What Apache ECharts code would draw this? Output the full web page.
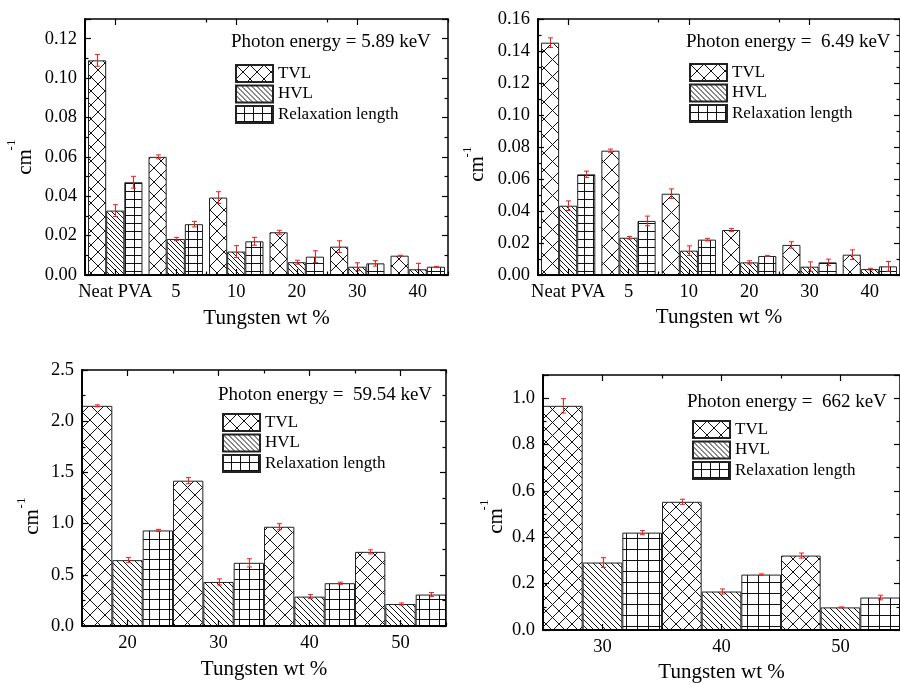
<!DOCTYPE html>
<html>
<head>
<meta charset="utf-8">
<script src="https://cdn.jsdelivr.net/npm/echarts@6/dist/echarts.min.js"></script>
<style>html,body{margin:0;padding:0;background:#fff}#c{width:900px;height:684px}</style>
</head>
<body>
<div id="c"></div>
<script>
// ---------- DATA ----------
const seriesNames = ['TVL', 'HVL', 'Relaxation length'];
const xName = 'Tungsten wt %';

const p1Title = 'Photon energy = 5.89 keV';
const p1Cats = ['Neat PVA', '5', '10', '20', '30', '40'];
const p1TVL = [0.109, 0.060, 0.0393, 0.0217, 0.0144, 0.0098];
const p1HVL = [0.0327, 0.0183, 0.0119, 0.0065, 0.0042, 0.0029];
const p1Rel = [0.0471, 0.0258, 0.0171, 0.0093, 0.0059, 0.0042];
const p1TVLerr = [0.003, 0.001, 0.003, 0.001, 0.003, 0.0002];
const p1HVLerr = [0.003, 0.0008, 0.003, 0.001, 0.002, 0.003];
const p1Relerr = [0.003, 0.0014, 0.002, 0.003, 0.0014, 0.0002];

const p2Title = 'Photon energy =  6.49 keV';
const p2Cats = ['Neat PVA', '5', '10', '20', '30', '40'];
const p2TVL = [0.1452, 0.0777, 0.0508, 0.0281, 0.0188, 0.0127];
const p2HVL = [0.0433, 0.0233, 0.0152, 0.0079, 0.0052, 0.0037];
const p2Rel = [0.0629, 0.0338, 0.0221, 0.0119, 0.0079, 0.0054];
const p2TVLerr = [0.003, 0.001, 0.003, 0.001, 0.002, 0.003];
const p2HVLerr = [0.003, 0.0008, 0.003, 0.001, 0.003, 0.0005];
const p2Relerr = [0.002, 0.003, 0.0008, 0.0002, 0.002, 0.003];

const p3Title = 'Photon energy =  59.54 keV';
const p3Cats = ['20', '30', '40', '50'];
const p3TVL = [2.150, 1.419, 0.969, 0.724];
const p3HVL = [0.643, 0.430, 0.287, 0.215];
const p3Rel = [0.933, 0.617, 0.418, 0.307];
const p3TVLerr = [0.01, 0.03, 0.03, 0.02];
const p3HVLerr = [0.025, 0.03, 0.02, 0.01];
const p3Relerr = [0.01, 0.04, 0.01, 0.02];

const p4Title = 'Photon energy =  662 keV';
const p4Cats = ['30', '40', '50'];
const p4TVL = [0.967, 0.553, 0.321];
const p4HVL = [0.291, 0.166, 0.0975];
const p4Rel = [0.420, 0.239, 0.140];
const p4TVLerr = [0.031, 0.011, 0.011];
const p4HVLerr = [0.021, 0.011, 0.002];
const p4Relerr = [0.009, 0.003, 0.01];

// y-axis tick settings
const p1Y = {max: 0.13, interval: 0.02, digits: 2, showMax: false};
const p2Y = {max: 0.16, interval: 0.02, digits: 2, showMax: true};
const p3Y = {max: 2.5, interval: 0.5, digits: 1, showMax: true};
const p4Y = {max: 1.1, interval: 0.2, digits: 1, showMax: false};

// ---------- LAYOUT / STYLE ----------
const FONT = '"Liberation Serif", "Times New Roman", serif';

function makePattern(type, s) {
  const c = document.createElement('canvas');
  const w = s.w || s, h = s.h || s;
  c.width = w; c.height = h;
  const g = c.getContext('2d');
  g.fillStyle = '#fff'; g.fillRect(0, 0, w, h);
  g.strokeStyle = '#111'; g.lineWidth = 1;
  g.beginPath();
  if (type === 'cross') {
    g.moveTo(0, 0); g.lineTo(w, h);
    g.moveTo(w, 0); g.lineTo(0, h);
  } else if (type === 'diag') {
    g.moveTo(-w, -h); g.lineTo(2 * w, 2 * h);
    g.moveTo(0, -h); g.lineTo(2 * w, h);
    g.moveTo(-w, 0); g.lineTo(w, 2 * h);
  } else {
    g.moveTo(w - 0.5, 0); g.lineTo(w - 0.5, h);
    g.moveTo(0, h - 0.5); g.lineTo(w, h - 0.5);
  }
  g.stroke();
  return {image: c, repeat: 'repeat'};
}

const panels = [
  {cats: p1Cats, vals: [p1TVL, p1HVL, p1Rel], errs: [p1TVLerr, p1HVLerr, p1Relerr], y: p1Y, title: p1Title,
   grid: {left: 85, top: 19, width: 363, height: 256}, gap: 0.10, nameGap: 33,
   titlePos: [231, 42], legend: {left: 235, top: 64},
   cm: [25, 162], sup: [12, 145],
   pat: [{t: 'cross', s: 14}, {t: 'diag', s: 5}, {t: 'grid', s: {w: 9, h: 8}}]},
  {cats: p2Cats, vals: [p2TVL, p2HVL, p2Rel], errs: [p2TVLerr, p2HVLerr, p2Relerr], y: p2Y, title: p2Title,
   grid: {left: 538, top: 19, width: 364, height: 256}, gap: 0.10, nameGap: 32,
   titlePos: [686, 42], legend: {left: 689, top: 63},
   cm: [477, 169], sup: [468, 152],
   pat: [{t: 'cross', s: 17}, {t: 'diag', s: 5}, {t: 'grid', s: {w: 9, h: 8}}]},
  {cats: p3Cats, vals: [p3TVL, p3HVL, p3Rel], errs: [p3TVLerr, p3HVLerr, p3Relerr], y: p3Y, title: p3Title,
   grid: {left: 82, top: 370, width: 364, height: 256}, gap: 0, nameGap: 33,
   titlePos: [218, 395], legend: {left: 222, top: 413},
   cm: [32, 522], sup: [22, 503],
   pat: [{t: 'cross', s: 15}, {t: 'diag', s: 6}, {t: 'grid', s: 10}]},
  {cats: p4Cats, vals: [p4TVL, p4HVL, p4Rel], errs: [p4TVLerr, p4HVLerr, p4Relerr], y: p4Y, title: p4Title,
   grid: {left: 543, top: 375, width: 364, height: 256}, gap: 0, nameGap: 32,
   titlePos: [687, 402], legend: {left: 692, top: 420},
   cm: [496, 521], sup: [485, 505],
   pat: [{t: 'cross', s: 13}, {t: 'diag', s: 6}, {t: 'grid', s: 11}]}
];

const grids = [], xAxes = [], yAxes = [], series = [], legends = [], graphics = [];
const tickLine = {color: '#000', width: 1.2};

panels.forEach((p, pi) => {
  grids.push(Object.assign({}, p.grid));
  grids.push(Object.assign({}, p.grid));
  const gA = 2 * pi, gB = 2 * pi + 1;
  const xA = xAxes.length;
  // bottom main axis
  xAxes.push({
    type: 'category', gridIndex: gA, position: 'bottom', data: p.cats, z: 10,
    axisLine: {show: true, onZero: false, lineStyle: {color: '#000', width: 2}},
    axisTick: {show: true, inside: true, alignWithLabel: true, length: 6, lineStyle: tickLine},
    axisLabel: {show: true, color: '#000', fontFamily: FONT, fontSize: 18.5, margin: 8, interval: 0},
    splitLine: {show: false},
    name: xName, nameLocation: 'middle', nameGap: p.nameGap,
    nameTextStyle: {color: '#000', fontFamily: FONT, fontSize: 21}
  });
  // top main axis
  xAxes.push({
    type: 'category', gridIndex: gA, position: 'top', data: p.cats, z: 10,
    axisLine: {show: true, onZero: false, lineStyle: {color: '#000', width: 1.5}},
    axisTick: {show: true, inside: true, alignWithLabel: true, length: 6, lineStyle: tickLine},
    axisLabel: {show: false}, splitLine: {show: false}
  });
  // boundary (minor) ticks
  xAxes.push({
    type: 'category', gridIndex: gB, position: 'bottom', data: p.cats, z: 10,
    axisLine: {show: false, onZero: false},
    axisTick: {show: true, inside: true, length: 3.5, lineStyle: tickLine},
    axisLabel: {show: false}, splitLine: {show: false}
  });
  xAxes.push({
    type: 'category', gridIndex: gB, position: 'top', data: p.cats, z: 10,
    axisLine: {show: false, onZero: false},
    axisTick: {show: true, inside: true, length: 3.5, lineStyle: tickLine},
    axisLabel: {show: false}, splitLine: {show: false}
  });
  const yA = yAxes.length;
  const mk = (pos, lw, labels) => ({
    type: 'value', gridIndex: gA, position: pos, z: 10,
    min: 0, max: p.y.max, interval: p.y.interval,
    splitLine: {show: false},
    axisLine: {show: true, onZero: false, lineStyle: {color: '#000', width: lw}},
    axisTick: {show: true, inside: true, length: 6, lineStyle: tickLine},
    minorTick: {show: true, splitNumber: 2, length: 3.5, lineStyle: tickLine},
    axisLabel: labels ? {show: true, color: '#000', fontFamily: FONT, fontSize: 18.5, margin: 8,
      showMaxLabel: p.y.showMax, formatter: v => v.toFixed(p.y.digits)} : {show: false}
  });
  yAxes.push(mk('left', 2, true));
  yAxes.push(mk('right', 1.5, false));
  yAxes.push({type: 'value', gridIndex: gB, show: false});

  const gapPct = (p.gap * 100) + '%';
  seriesNames.forEach((nm, k) => {
    const pt = p.pat[k];
    series.push({
      type: 'bar', name: nm, xAxisIndex: xA, yAxisIndex: yA,
      barGap: '0%', barCategoryGap: gapPct,
      itemStyle: {color: makePattern(pt.t, pt.s), borderColor: '#222', borderWidth: 1},
      emphasis: {disabled: true},
      data: p.vals[k]
    });
  });
  seriesNames.forEach((nm, k) => {
    series.push({
      type: 'custom', name: nm + ' error', xAxisIndex: xA, yAxisIndex: yA, z: 5,
      data: p.cats.map((c, i) => [i, p.vals[k][i], p.errs[k][i]]),
      encode: {x: 0, y: 1},
      renderItem: function (params, api) {
        const idx = api.value(0), v = api.value(1), e = api.value(2);
        const band = api.size([1, 0])[0];
        const w = band * (1 - p.gap) / 3;
        const top = api.coord([idx, v + e]);
        const bot = api.coord([idx, v - e]);
        const x = Math.round(top[0] + (k - 1) * w) + 0.5;
        const cap = 2.5;
        const st = {stroke: '#ff1a1a', lineWidth: 1};
        return {type: 'group', children: [
          {type: 'line', shape: {x1: x, y1: top[1], x2: x, y2: bot[1]}, style: st},
          {type: 'line', shape: {x1: x - cap, y1: top[1], x2: x + cap, y2: top[1]}, style: st},
          {type: 'line', shape: {x1: x - cap, y1: bot[1], x2: x + cap, y2: bot[1]}, style: st}
        ]};
      }
    });
  });

  legends.push({
    orient: 'vertical', left: p.legend.left, top: p.legend.top, padding: 0,
    itemWidth: 37, itemHeight: 17, itemGap: 1.5, icon: 'rect', selectedMode: false,
    data: seriesNames,
    textStyle: {color: '#000', fontFamily: FONT, fontSize: 17, lineHeight: 17}
  });

  graphics.push({type: 'text', x: p.titlePos[0], y: p.titlePos[1],
    style: {text: p.title, font: '19px ' + FONT, fill: '#000', align: 'left', verticalAlign: 'middle'}});
  graphics.push({type: 'text', x: p.cm[0], y: p.cm[1], rotation: Math.PI / 2,
    style: {text: 'cm', font: '21px ' + FONT, fill: '#000', align: 'center', verticalAlign: 'middle'}});
  graphics.push({type: 'text', x: p.sup[0], y: p.sup[1], rotation: Math.PI / 2,
    style: {text: '-1', font: '13px ' + FONT, fill: '#000', align: 'center', verticalAlign: 'middle'}});
});

const chart = echarts.init(document.getElementById('c'), null, {renderer: 'canvas'});
chart.setOption({
  animation: false,
  backgroundColor: '#fff',
  grid: grids, xAxis: xAxes, yAxis: yAxes, series: series,
  legend: legends, graphic: graphics
});
</script>
</body>
</html>
